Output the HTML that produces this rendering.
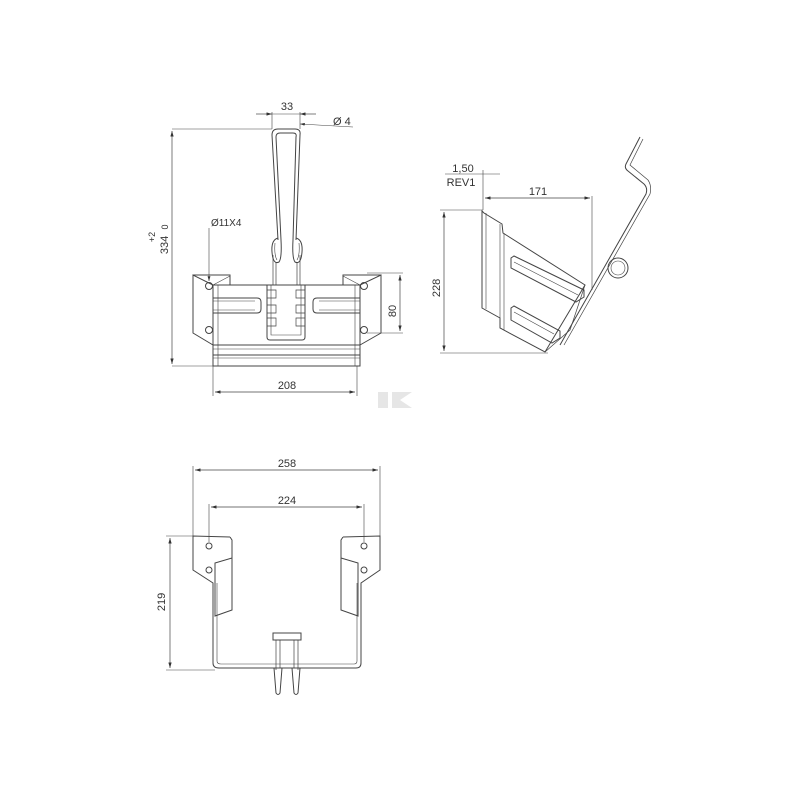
<!DOCTYPE html>
<html><head><meta charset="utf-8"><style>
html,body{margin:0;padding:0;background:#fff;}
svg{display:block;}
text{font-family:"Liberation Sans",sans-serif;fill:#333;}
</style></head><body>
<svg width="800" height="800" viewBox="0 0 800 800" xmlns="http://www.w3.org/2000/svg">
<defs>
<marker id="a" viewBox="0 0 10 6" refX="10" refY="3" markerWidth="8" markerHeight="5" orient="auto-start-reverse"><path d="M0,0 L10,3 L0,6 z" fill="#333"/></marker>
</defs>
<g fill="none" stroke="#444" stroke-width="1">
<!-- ===== FRONT VIEW ===== -->
<line x1="172" y1="129" x2="272" y2="129" stroke-width="0.6"/>
<line x1="172" y1="366" x2="215" y2="366" stroke-width="0.6"/>
<line x1="172" y1="131" x2="172" y2="364" stroke-width="0.7" marker-start="url(#a)" marker-end="url(#a)"/>
<line x1="272" y1="112" x2="272" y2="129" stroke-width="0.6"/>
<line x1="300" y1="112" x2="300" y2="129" stroke-width="0.6"/>
<line x1="256" y1="114" x2="272" y2="114" stroke-width="0.7" marker-end="url(#a)"/>
<line x1="316" y1="114" x2="300" y2="114" stroke-width="0.7" marker-end="url(#a)"/>
<line x1="272" y1="114" x2="300" y2="114" stroke-width="0.6"/>
<line x1="353" y1="127" x2="300" y2="124" stroke-width="0.6" marker-end="url(#a)"/>
<!-- wire hook legs -->
<path d="M278,240 L272,135 Q272,129 278,129 L295,129 Q301,129 300,135 L296,240"/>
<path d="M281,240 L276,137 Q276,133 280,133 L293,133 Q297,133 296,137 L293,240"/>
<path d="M278,238 Q271,240 272,252 Q273,265 279,262 Q282,258 281,240" />
<path d="M275,243 Q274,255 277,260" stroke-width="0.6"/>
<path d="M296,238 Q303,240 302,252 Q301,265 295,262 Q292,258 293,240" />
<path d="M299,243 Q300,255 297,260" stroke-width="0.6"/>
<path d="M273,255 L273,285 M276,262 L276,285 M297,262 L297,285 M300,255 L300,285" stroke-width="0.7"/>
<!-- brackets / flanges -->
<path d="M213,285 L193,275 L193,333 L213,345"/>
<path d="M193,275 L230,275 L230,285"/>
<path d="M360,285 L381,275 L381,333 L360,345"/>
<path d="M381,275 L343,275 L343,285"/>
<path d="M213,285 L230,276 M360,285 L343,276" stroke-width="0.6"/>
<rect x="213" y="285" width="147" height="81"/>
<line x1="218" y1="285" x2="218" y2="366" stroke-width="0.6"/>
<line x1="355" y1="285" x2="355" y2="366" stroke-width="0.6"/>
<line x1="213" y1="345" x2="360" y2="345"/>
<line x1="213" y1="349" x2="360" y2="349" stroke-width="0.6"/>
<line x1="213" y1="355" x2="360" y2="355"/>
<line x1="213" y1="358" x2="360" y2="358" stroke-width="0.6"/>
<path d="M213,298 L257,298 Q261,298 261,302 L261,309 Q261,313 257,313 L213,313"/>
<path d="M213,301 L255,301 M213,310 L255,310" stroke-width="0.5"/>
<path d="M360,298 L317,298 Q313,298 313,302 L313,309 Q313,313 317,313 L360,313"/>
<path d="M360,301 L319,301 M360,310 L319,310" stroke-width="0.5"/>
<path d="M267,285 L267,337 Q267,340 270,340 L302,340 Q305,340 305,337 L305,285"/>
<path d="M271,285 L271,335 L301,335 L301,285" stroke-width="0.6"/>
<path d="M267,290 L276,290 L276,298 L267,298 M267,305 L276,305 L276,313 L267,313 M267,318 L276,318 L276,326 L267,326" stroke-width="0.7"/>
<path d="M305,290 L296,290 L296,298 L305,298 M305,305 L296,305 L296,313 L305,313 M305,318 L296,318 L296,326 L305,326" stroke-width="0.7"/>
<circle cx="209" cy="286" r="3.5"/><circle cx="209" cy="330" r="3.5"/>
<circle cx="364" cy="286" r="3.5"/><circle cx="364" cy="330" r="3.5"/>
<line x1="209" y1="228" x2="209" y2="281" stroke-width="0.6" marker-end="url(#a)"/>
<line x1="367" y1="273" x2="403" y2="273" stroke-width="0.6"/>
<line x1="367" y1="333" x2="403" y2="333" stroke-width="0.6"/>
<line x1="400" y1="275" x2="400" y2="331" stroke-width="0.7" marker-start="url(#a)" marker-end="url(#a)"/>
<line x1="213" y1="366" x2="213" y2="396" stroke-width="0.6"/>
<line x1="357" y1="366" x2="357" y2="396" stroke-width="0.6"/>
<line x1="215" y1="392" x2="355" y2="392" stroke-width="0.7" marker-start="url(#a)" marker-end="url(#a)"/>

<!-- ===== SIDE VIEW ===== -->
<line x1="445" y1="174" x2="500" y2="174" stroke-width="0.6"/>
<line x1="483" y1="170" x2="483" y2="210" stroke-width="0.6"/>
<line x1="485" y1="198" x2="590" y2="198" stroke-width="0.7" marker-start="url(#a)" marker-end="url(#a)"/>
<line x1="592" y1="196" x2="592" y2="290" stroke-width="0.6"/>
<line x1="440" y1="210" x2="483" y2="210" stroke-width="0.6"/>
<line x1="440" y1="353" x2="548" y2="353" stroke-width="0.6"/>
<line x1="444" y1="212" x2="444" y2="351" stroke-width="0.7" marker-start="url(#a)" marker-end="url(#a)"/>
<path d="M482,211 L482,308 L500,318 L500,328 L545,352 L585,285 L503,233 L502,224 L484,213 Z"/>
<line x1="486" y1="213" x2="486" y2="309" stroke-width="0.6"/>
<line x1="500" y1="224" x2="500" y2="318" stroke-width="0.6"/>
<line x1="504" y1="233" x2="504" y2="330" stroke-width="0.6"/>
<path d="M511,258 L514,256 L584,290 L584,297 L576,302 L511,268 Z"/>
<path d="M514,262 L578,295" stroke-width="0.6"/>
<path d="M511,308 L514,306 L560,331 L560,338 L552,343 L511,320 Z"/>
<path d="M514,312 L554,334" stroke-width="0.6"/>
<path d="M585,285 L570,330 L545,352" stroke-width="0.7"/>
<path d="M640,137 L626,164 Q624,168 628,171 L644,184 Q648,188 646,194 L560,345"/>
<path d="M643,139 L630,165 L648,180 Q652,186 650,194 L564,345" stroke-width="0.7"/>
<circle cx="618" cy="268" r="10"/>
<circle cx="618" cy="268" r="7" stroke-width="0.6"/>

<!-- ===== BOTTOM VIEW ===== -->
<line x1="193" y1="466" x2="193" y2="536" stroke-width="0.6"/>
<line x1="380" y1="466" x2="380" y2="536" stroke-width="0.6"/>
<line x1="195" y1="470" x2="378" y2="470" stroke-width="0.7" marker-start="url(#a)" marker-end="url(#a)"/>
<line x1="209" y1="504" x2="209" y2="542" stroke-width="0.6"/>
<line x1="364" y1="504" x2="364" y2="542" stroke-width="0.6"/>
<line x1="211" y1="507" x2="362" y2="507" stroke-width="0.7" marker-start="url(#a)" marker-end="url(#a)"/>
<line x1="166" y1="536" x2="193" y2="536" stroke-width="0.6"/>
<line x1="166" y1="670" x2="215" y2="670" stroke-width="0.6"/>
<line x1="170" y1="538" x2="170" y2="668" stroke-width="0.7" marker-start="url(#a)" marker-end="url(#a)"/>
<path d="M230,537 L193,536 L193,570 L213,583 L213,663 Q213,668 219,668 L356,668 Q361,668 361,663 L361,583 L380,570 L380,536 L343,537"/>
<path d="M217,583 L217,661 Q217,664 221,664 L354,664 Q357,664 357,661 L357,583" stroke-width="0.6"/>
<path d="M230,537 L232,540 L232,558 L215,563 L215,616 L232,610 L232,558"/>
<path d="M343,537 L341,540 L341,558 L358,563 L358,616 L341,610 L341,558"/>
<circle cx="209" cy="546" r="3"/><circle cx="209" cy="570" r="3"/>
<circle cx="364" cy="546" r="3"/><circle cx="364" cy="570" r="3"/>
<path d="M273,633 L301,633 L301,640 L273,640 Z"/>
<path d="M276,640 L276,670 M298,640 L298,670 M280,640 L280,668 M294,640 L294,668" stroke-width="0.7"/>
<path d="M274,668 L276,693 Q278,696 280,693 L282,668 M292,668 L294,693 Q296,696 298,693 L300,668"/>
</g>
<g fill="#e6e6e6"><path d="M378,392 L388,392 L388,408 L378,408 Z M392,392 L412,392 L400,400 L412,408 L392,408 Z"/></g>
<g font-size="11">
<text x="287" y="110" text-anchor="middle">33</text>
<text x="333" y="125">Ø 4</text>
<text x="211" y="226" font-size="10">Ø11X4</text>
<text transform="translate(168,245) rotate(-90)" text-anchor="middle">334</text>
<text transform="translate(155,237) rotate(-90)" text-anchor="middle" font-size="9">+2</text>
<text transform="translate(168,227) rotate(-90)" text-anchor="middle" font-size="9">0</text>
<text transform="translate(396,311) rotate(-90)" text-anchor="middle">80</text>
<text x="287" y="389" text-anchor="middle">208</text>
<text x="463" y="172" text-anchor="middle">1,50</text>
<text x="461" y="186" text-anchor="middle">REV1</text>
<text x="538" y="195" text-anchor="middle">171</text>
<text transform="translate(440,288) rotate(-90)" text-anchor="middle">228</text>
<text x="287" y="467" text-anchor="middle">258</text>
<text x="287" y="504" text-anchor="middle">224</text>
<text transform="translate(165,602) rotate(-90)" text-anchor="middle">219</text>
</g>
</svg>
</body></html>
